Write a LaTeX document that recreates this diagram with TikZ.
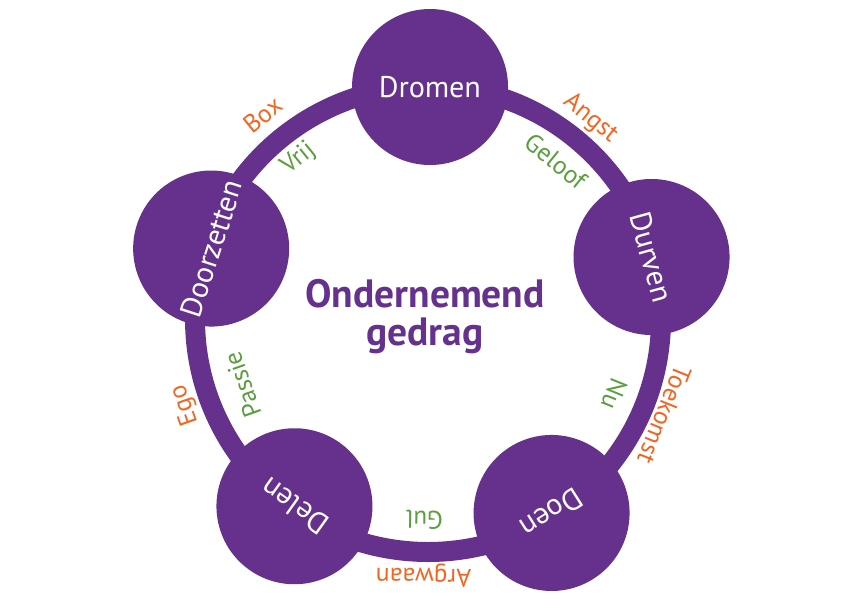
\documentclass[tikz,border=0pt]{standalone}
\usepackage{fontspec}
\setmainfont{PT Sans}

\definecolor{ringpurple}{HTML}{66308D}
\definecolor{labelorange}{HTML}{F26522}
\definecolor{labelgreen}{HTML}{5A9E3E}

\tikzset{
    stage/.style={circle, fill=ringpurple, minimum size=156pt, inner sep=0pt, text=white, font=\fontsize{30}{32}\selectfont},
    outerword/.style={text=labelorange, inner sep=0pt, font=\fontsize{25.5}{27}\selectfont},
    innerword/.style={text=labelgreen, inner sep=0pt, font=\fontsize{25.5}{27}\selectfont}
}

\begin{document}
\begin{tikzpicture}[x=1pt, y=1pt]
        \useasboundingbox (0,0) rectangle (842,595);

        \begin{scope}[shift={(428,276)}]
        \draw[ringpurple, line width=20pt] (0,0) circle (233);

        \node[stage, rotate=-0.5] (dromen) at (89.5:232) {Dromen};
        \node[stage, rotate=-74.5] (durven) at (15.5:232) {Durven};
        \node[stage, rotate=-147.5] (doen) at (-57.5:230) {Doen};
        \node[stage, rotate=-215.5] (delen) at (-125.5:230) {Delen};
        \node[stage, rotate=72] (doorzetten) at (162:228) {Doorzetten};

        \node[outerword, rotate=-39] (angst) at (51:258) {Angst};
        \node[innerword, rotate=-39] (geloof) at (51:203) {Geloof};

        \node[outerword, rotate=-112] (toekomst) at (-22:255) {Toekomst};
        \node[innerword, rotate=-112] (nu) at (-22:201) {Nu};

        \node[outerword, rotate=-181] (argwaan) at (-91:256) {Argwaan};
        \node[innerword, rotate=-181] (gul) at (-91:201) {Gul};

        \node[outerword, rotate=-250.5] (ego) at (-160.5:258) {Ego};
        \node[innerword, rotate=-250.5] (passie) at (-160.5:197) {Passie};

        \node[outerword, rotate=39] (box) at (129:263) {Box};
        \node[innerword, rotate=39] (vrij) at (129:206) {Vrij};

        %\node at (0,-60) {centre};
        \node[text=ringpurple, align=center, font=\bfseries\fontsize{39.5}{38}\selectfont] (gedrag) at (-3,2) {Ondernemend\\gedrag};
        \end{scope}
\end{tikzpicture}
\end{document}
